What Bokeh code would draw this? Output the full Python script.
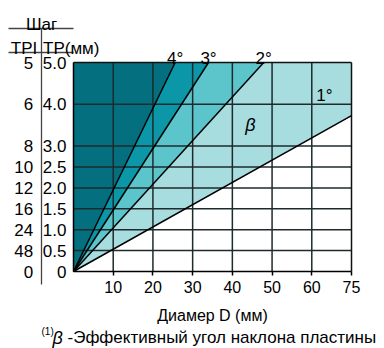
from bokeh.plotting import figure
from bokeh.models import FixedTicker, LinearAxis, Range1d
from bokeh.core.properties import value
from bokeh.embed import file_html
from bokeh.resources import INLINE

# ---------------- data ----------------
TP_VALUES = [5.0, 4.0, 3.0, 2.5, 2.0, 1.5, 1.0, 0.5, 0.0]
TP_LABELS = ["5.0", "4.0", "3.0", "2.5", "2.0", "1.5", "1.0", "0.5", "0"]
TPI_LABELS = ["5", "6", "8", "10", "12", "16", "24", "48", "0"]
X_TICKS = [10, 20, 30, 40, 50, 60, 75]
X_GRID = [10, 20, 30, 40, 50, 60]
Y_GRID = [0.5, 1.0, 1.5, 2.0, 2.5, 3.0, 4.0]
ANGLE_LABELS = ["4°", "3°", "2°", "1°"]
LINE_END_D = [25.6, 34.0, 47.9, 75.0]      # diameter where each angle line ends
LINE_END_P = [5.0, 5.0, 5.0, 3.73]         # pitch at that end
D_MAX = 75
P_MAX = 5.0
FILLS = ["#04707F", "#0C97A8", "#5CC5CC", "#A8DDE0"]

FONT = "Liberation Sans"

# the reference axis is evenly spaced up to 60; the last cell (60-75) is drawn as wide as 10 units
def xv(d):
    return d if d <= 60 else 60 + (d - 60) * 10.0 / 15.0

XV_MAX = xv(D_MAX)

# ---------------- layout geometry (canvas pixels) ----------------
W, H = 384, 348
FL, FR, FT, FB = 73, 351, 62, 271
SX = (FR - FL) / XV_MAX
SY = (FB - FT) / P_MAX

def dx(px):
    return (px - FL) / SX

def dy(py):
    return (FB - py) / SY

p = figure(width=W, height=H, x_range=Range1d(dx(0), dx(W)), y_range=Range1d(dy(H), dy(0)),
           output_backend="svg", toolbar_location=None,
           min_border_left=0, min_border_right=0, min_border_top=0, min_border_bottom=0)
p.background_fill_color = "white"
p.border_fill_color = "white"
p.outline_line_color = None
p.xgrid.visible = False
p.ygrid.visible = False

# ---------------- fills ----------------
ends = [(xv(d), pp) for d, pp in zip(LINE_END_D, LINE_END_P)]
xs = [
    [0, 0, ends[0][0]],
    [0, ends[0][0], ends[1][0]],
    [0, ends[1][0], ends[2][0]],
    [0, ends[2][0], XV_MAX, ends[3][0]],
]
ys = [
    [0, P_MAX, ends[0][1]],
    [0, ends[0][1], ends[1][1]],
    [0, ends[1][1], ends[2][1]],
    [0, ends[2][1], P_MAX, ends[3][1]],
]
p.patches(xs=xs, ys=ys, fill_color=FILLS, line_color=None)

# ---------------- grid lines (inside the chart box only) ----------------
GRID_COLOR = "#1e2a2c"
gx = [xv(t) for t in X_GRID]
p.segment(x0=gx, y0=[0] * len(gx), x1=gx, y1=[P_MAX] * len(gx), line_color=GRID_COLOR, line_width=1.5)
p.segment(x0=[0] * len(Y_GRID), y0=Y_GRID, x1=[XV_MAX] * len(Y_GRID), y1=Y_GRID,
          line_color=GRID_COLOR, line_width=1.5)
# top and right border
p.segment(x0=[0, XV_MAX], y0=[P_MAX, 0], x1=[XV_MAX, XV_MAX], y1=[P_MAX, P_MAX],
          line_color="#111111", line_width=1.5)

# ---------------- angle lines ----------------
p.segment(x0=[0] * 4, y0=[0] * 4, x1=[e[0] for e in ends], y1=[e[1] for e in ends],
          line_color="black", line_width=1.5)

# ---------------- axes ----------------
xa = p.xaxis[0]
xa.fixed_location = 0
xa.bounds = (0, XV_MAX)
xa.ticker = FixedTicker(ticks=[xv(t) for t in X_TICKS])
xa.major_label_overrides = {xv(t): str(t) for t in X_TICKS}
xa.major_tick_out = 4
xa.major_tick_in = 0
xa.minor_tick_line_color = None
xa.major_tick_line_color = "black"
xa.major_tick_line_width = 1.5
xa.axis_line_color = "black"
xa.axis_line_width = 1.5
xa.major_label_standoff = 5
xa.major_label_text_font = FONT
xa.major_label_text_font_size = "16px"
xa.major_label_text_color = "black"
xa.axis_label = "Диамер D (мм)"
xa.axis_label_text_font = FONT
xa.axis_label_text_font_size = "16px"
xa.axis_label_text_font_style = "normal"
xa.axis_label_text_color = "black"
xa.axis_label_standoff = 11

ya = p.yaxis[0]
ya.fixed_location = 0
ya.bounds = (0, P_MAX)
ya.ticker = FixedTicker(ticks=TP_VALUES)
ya.major_label_overrides = {v: s for v, s in zip(TP_VALUES, TP_LABELS)}
ya.major_tick_out = 0
ya.major_tick_in = 0
ya.minor_tick_line_color = None
ya.axis_line_color = "black"
ya.axis_line_width = 1.5
ya.major_label_standoff = 7
ya.major_label_text_font = FONT
ya.major_label_text_font_size = "17px"
ya.major_label_text_color = "black"

SEP = "#444444"
tpi = LinearAxis(ticker=FixedTicker(ticks=TP_VALUES),
                 major_label_overrides={v: s for v, s in zip(TP_VALUES, TPI_LABELS)})
tpi.fixed_location = dx(40.7)
tpi.bounds = (dy(284), dy(28))
tpi.major_tick_out = 0
tpi.major_tick_in = 0
tpi.minor_tick_line_color = None
tpi.axis_line_color = SEP
tpi.axis_line_width = 1.3
tpi.major_label_standoff = 8
tpi.major_label_text_font = FONT
tpi.major_label_text_font_size = "17px"
tpi.major_label_text_color = "black"
p.add_layout(tpi, "left")

# ---------------- header table ----------------
p.segment(x0=[dx(8), dx(8)], y0=[dy(28), dy(52)], x1=[dx(73), dx(73)], y1=[dy(28), dy(52)],
          line_color=SEP, line_width=1.3)

def txt(texts, pxs, pys, size, align="center", baseline="alphabetic", style="normal"):
    p.text(x=[dx(v) for v in pxs], y=[dy(v) for v in pys], text=texts,
           text_font=value(FONT), text_font_size=value(size), text_align=align,
           text_baseline=baseline, text_font_style=style, text_color="black")

txt(["Шаг"], [41], [24], "17px")
txt(["TPI"], [23.5], [48], "17px")
txt(["TP(мм)"], [42.5], [48], "17px", align="left")

# ---------------- angle labels ----------------
p.text(x=[e[0] for e in ends[:3]], y=[P_MAX + 4 / SY] * 3, text=ANGLE_LABELS[:3],
       text_font=value(FONT), text_font_size=value("17px"), text_align="center",
       text_baseline="alphabetic", text_color="black")
txt([ANGLE_LABELS[3]], [324], [95], "17px", baseline="middle")
txt(["β"], [250], [124], "18px", baseline="middle", style="italic")

# ---------------- footnote ----------------
txt(["(1)"], [41], [331], "10px", align="left")
txt(["β"], [52], [337], "18px", align="left", style="italic")
txt(["-Эффективный угол наклона пластины"], [67], [337], "17px", align="left")

open("out.html", "w").write(file_html(p, INLINE))
